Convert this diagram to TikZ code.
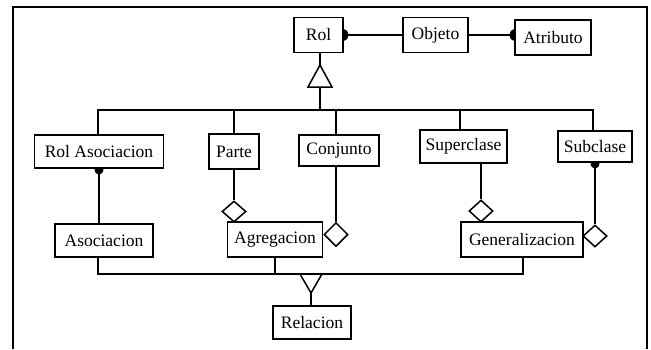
\documentclass[tikz,border=0pt]{standalone}
\usepackage{fontspec}
\setmainfont{Liberation Serif}
\usetikzlibrary{shapes.geometric,backgrounds}
\begin{document}
\begin{tikzpicture}[x=1pt,y=-1pt,
  cls/.style={draw,line width=1.5pt,fill=white,inner sep=0pt,
    font=\fontsize{17.5}{20}\selectfont},
  link/.style={line width=1.7pt},
  knob/.style={x radius=4.5pt, y radius=6pt},
  agg/.style={draw,diamond,line width=1.5pt,fill=white,inner sep=0pt,
    minimum width=24pt,minimum height=22pt},
  gen/.style={draw,line width=1.5pt,fill=white,line join=miter}]
\useasboundingbox (0,0) rectangle (651,349);

% outer frame, open at the bottom
\draw[line width=1.7pt] (13,349) -- (13,7) -- (647,7) -- (647,349);

% classes
\node[cls,minimum width=49pt,minimum height=35pt] (rol) at (318.5,35) {Rol};
\node[cls,minimum width=65pt,minimum height=35pt] (obj) at (435.5,35) {Objeto};
\node[cls,minimum width=76pt,minimum height=35pt] (atr) at (553,37.5) {Atributo};

\node[cls,minimum width=129pt,minimum height=33pt] (rolasoc) at (99,151.5) {Rol Asociacion};
\node[cls,minimum width=50pt,minimum height=35pt] (parte) at (234,151.5) {Parte};
\node[cls,minimum width=80pt,minimum height=31pt] (conj) at (339,150.5) {Conjunto};
\node[cls,minimum width=87pt,minimum height=33pt] (sup) at (463.5,146.5) {Superclase};
\node[cls,minimum width=74pt,minimum height=31pt] (sub) at (595,146.5) {Subclase};

\node[cls,minimum width=98pt,minimum height=33pt] (asoc) at (104,240.5) {Asociacion};
\node[cls,minimum width=95pt,minimum height=35pt] (agr) at (275,239.5) {Agregacion};
\node[cls,minimum width=122pt,minimum height=35pt] (gnr) at (522,239.5) {Generalizacion};
\node[cls,minimum width=78pt,minimum height=33pt] (rel) at (312,322.5) {Relacion};

% aggregation diamonds
\node[agg,minimum height=21pt] (dparte) at (234,211.5) {};
\node[agg,minimum height=24pt] (dconj) at (336,234.5) {};
\node[agg] (dsup) at (481,211) {};
\node[agg] (dsub) at (595,236) {};

% points of the generalization triangles and buses
\coordinate (gtip) at (320,65);
\coordinate (gbase) at (320,87);
\coordinate (busL) at (98,110);
\coordinate (busR) at (593,110);
\coordinate (rtip) at (311,293);
\coordinate (lbusL) at (98,274);
\coordinate (lbusR) at (523,274);

\begin{scope}[on background layer]
  % Rol -- Objeto -- Atributo
  \draw[link] (rol.east) -- (obj.west);
  \fill (rol.east) ellipse [knob];
  \draw[link] (obj.east) -- (obj.east -| atr.west);
  \fill (obj.east -| atr.west) ellipse [knob];

  % Rol specialisations
  \draw[link] (rol.south -| gtip) -- (gtip);
  \draw[link] (gbase) -- (gbase |- busL);
  \draw[link] (rolasoc.north -| busL) |- (busR) -- (sub.north -| busR);
  \draw[link] (parte.north) -- (parte.north |- busL);
  \draw[link] ([xshift=-3pt]conj.north) -- ([xshift=-3pt]conj.north |- busL);
  \draw[link] ([xshift=-3.5pt]sup.north) -- ([xshift=-3.5pt]sup.north |- busL);

  % part / whole links
  \draw[link] (rolasoc.south) -- (rolasoc.south |- asoc.north);
  \fill (rolasoc.south) ellipse [knob];
  \draw[link] (parte.south) -- (dparte.north);
  \draw[link] (dconj.north |- conj.south) -- (dconj.north);
  \draw[link] (dsup.north |- sup.south) -- (dsup.north);
  \draw[link] (sub.south) -- (dsub.north);
  \fill (sub.south) ellipse [knob];

  % Relacion specialisations
  \draw[link] (asoc.south -| lbusL) |- (lbusR) -- (lbusR |- gnr.south);
  \draw[link] (agr.south) -- (agr.south |- lbusL);
  \draw[link] (rtip) -- (rel.north -| rtip);
\end{scope}

% generalization triangles
\draw[gen] (gtip) -- (332,87) -- (308,87) -- cycle;
\draw[gen] (rtip) -- (322,274) -- (300,274) -- cycle;
\end{tikzpicture}
\end{document}
